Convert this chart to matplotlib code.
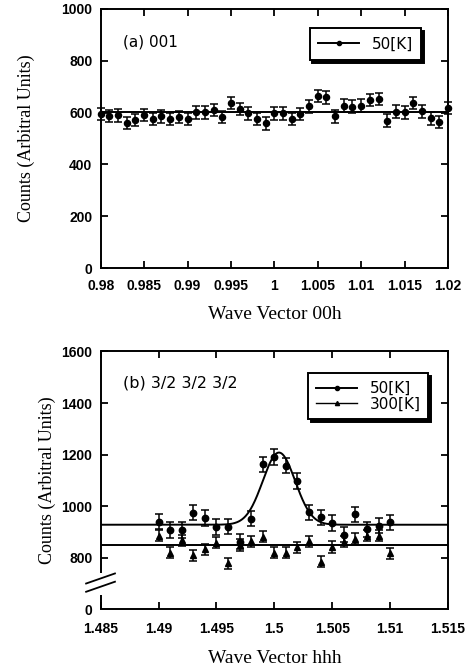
import numpy as np
import matplotlib
matplotlib.use('Agg')
import matplotlib.pyplot as plt
from matplotlib.lines import Line2D
import matplotlib.transforms as mtransforms

# ---------------- Panel (a): 001 ----------------
qa = [0.980, 0.981, 0.982, 0.983, 0.984, 0.985, 0.986, 0.987, 0.988, 0.989,
      0.990, 0.991, 0.992, 0.993, 0.994, 0.995, 0.996, 0.997, 0.998, 0.999,
      1.000, 1.001, 1.002, 1.003, 1.004, 1.005, 1.006, 1.007, 1.008, 1.009,
      1.010, 1.011, 1.012, 1.013, 1.014, 1.015, 1.016, 1.017, 1.018, 1.019,
      1.020]
counts_a = [595, 587, 589, 559, 572, 591, 576, 585, 576, 582,
            575, 601, 601, 610, 582, 636, 613, 597, 576, 558,
            597, 597, 576, 595, 624, 663, 659, 585, 627, 623,
            627, 648, 652, 569, 604, 601, 636, 605, 578, 563,
            617]
err_a = [24] * len(qa)
fit_a_level = 602

xticks_a = [0.98, 0.985, 0.99, 0.995, 1.0, 1.005, 1.01, 1.015, 1.02]
xticklabels_a = ["0.98", "0.985", "0.99", "0.995", "1", "1.005", "1.01", "1.015", "1.02"]
yticks_a = [0, 200, 400, 600, 800, 1000]
yticklabels_a = ["0", "200", "400", "600", "800", "1000"]

# ---------------- Panel (b): 3/2 3/2 3/2 ----------------
qb = [1.490, 1.491, 1.492, 1.493, 1.494, 1.495, 1.496, 1.497, 1.498, 1.499,
      1.500, 1.501, 1.502, 1.503, 1.504, 1.505, 1.506, 1.507, 1.508, 1.509,
      1.510]
counts_b50 = [940, 908, 908, 975, 955, 920, 921, 862, 952, 1162,
              1190, 1157, 1098, 976, 957, 934, 890, 968, 910, 925,
              937]
err_b50 = [30] * len(qb)
counts_b300 = [885, 820, 867, 809, 832, 858, 778, 850, 864, 882,
               820, 820, 840, 864, 785, 842, 862, 874, 886, 886,
               817]
err_b300 = [22] * len(qb)
# Gaussian fit to 50 K data, flat line for 300 K
fit_b50_base = 928
fit_b50_amp = 280
fit_b50_center = 1.5004
fit_b50_sigma = 0.0014
fit_b300_level = 848

xticks_b = [1.485, 1.49, 1.495, 1.5, 1.505, 1.51, 1.515]
xticklabels_b = ["1.485", "1.49", "1.495", "1.5", "1.505", "1.51", "1.515"]
# axis is broken: the bottom of the axis (600) is labelled 0
yticks_b = [600, 800, 1000, 1200, 1400, 1600]
yticklabels_b = ["0", "800", "1000", "1200", "1400", "1600"]

# ---------------- styling ----------------
serif = 'Liberation Serif'
sans = 'Liberation Sans'
label_font = 'DejaVu Sans'

fig = plt.figure(figsize=(4.73, 6.70), dpi=100)
ax1 = fig.add_axes([0.2129, 0.600, 0.7342, 0.3866])
ax2 = fig.add_axes([0.2129, 0.0906, 0.7342, 0.3848])


def style_axes(ax):
    ax.tick_params(direction='in', length=5, width=1.3, top=True, right=True,
                   labelsize=10)
    ax.tick_params(axis='x', pad=8)
    ax.tick_params(axis='y', pad=6)
    for s in ax.spines.values():
        s.set_linewidth(1.4)
    for lab in ax.get_xticklabels() + ax.get_yticklabels():
        lab.set_fontfamily(sans)
        lab.set_fontweight('bold')


# ---- panel (a)
ax1.errorbar(qa, counts_a, yerr=err_a, fmt='o', color='black', ms=4.4,
             elinewidth=1.1, capsize=2.8, capthick=1.1, clip_on=False, zorder=3)
ax1.axhline(fit_a_level, color='black', lw=1.4)
ax1.set_xlim(0.98, 1.02)
ax1.set_ylim(0, 1000)
ax1.set_xticks(xticks_a)
ax1.set_xticklabels(xticklabels_a)
ax1.set_yticks(yticks_a)
ax1.set_yticklabels(yticklabels_a)
style_axes(ax1)
ax1.set_xlabel('Wave Vector 00h', fontfamily=serif, fontsize=14, labelpad=9)
ax1.set_ylabel('Counts (Arbitral Units)', fontfamily=serif, fontsize=13, labelpad=19)
ax1.text(0.065, 0.855, '(a) 001', transform=ax1.transAxes, fontfamily=label_font,
         fontsize=11)
h1 = [Line2D([], [], color='black', lw=1.4, marker='o', ms=3)]
leg1 = ax1.legend(h1, ['50[K]'], loc='upper right', bbox_to_anchor=(0.945, 0.955),
                  frameon=True, fancybox=False, shadow={'color': 'black', 'alpha': 1},
                  prop={'family': label_font, 'size': 11}, handlelength=2.7,
                  borderpad=0.55, edgecolor='black')
leg1.get_frame().set_linewidth(1.4)

# ---- panel (b)
xx = np.linspace(1.485, 1.515, 600)
yy = fit_b50_base + fit_b50_amp * np.exp(-(xx - fit_b50_center) ** 2 / (2 * fit_b50_sigma ** 2))
ax2.plot(xx, yy, color='black', lw=1.4)
ax2.axhline(fit_b300_level, color='black', lw=1.4)
ax2.errorbar(qb, counts_b50, yerr=err_b50, fmt='o', color='black', ms=4.6,
             elinewidth=1.1, capsize=2.8, capthick=1.1, zorder=3)
ax2.errorbar(qb, counts_b300, yerr=err_b300, fmt='^', color='black', ms=4.6,
             elinewidth=1.1, capsize=2.8, capthick=1.1, zorder=3)
ax2.set_xlim(1.485, 1.515)
ax2.set_ylim(600, 1600)
ax2.set_xticks(xticks_b)
ax2.set_xticklabels(xticklabels_b)
ax2.set_yticks(yticks_b)
ax2.set_yticklabels(yticklabels_b)
style_axes(ax2)
ax2.tick_params(axis='x', pad=9)
ax2.yaxis.get_major_ticks()[0].tick1line.set_visible(False)
ax2.yaxis.get_major_ticks()[0].tick2line.set_visible(False)
ax2.set_xlabel('Wave Vector hhh', fontfamily=serif, fontsize=14, labelpad=10)
ax2.set_ylabel('Counts (Arbitral Units)', fontfamily=serif, fontsize=13, labelpad=4)
ax2.text(0.065, 0.86, '(b) 3/2 3/2 3/2', transform=ax2.transAxes,
         fontfamily=label_font, fontsize=11.5)
h2 = [Line2D([], [], color='black', lw=1.4, marker='o', ms=3),
      Line2D([], [], color='black', lw=1.0, marker='^', ms=3)]
leg2 = ax2.legend(h2, ['50[K]', '300[K]'], loc='upper right',
                  bbox_to_anchor=(0.965, 0.945), frameon=True, fancybox=False,
                  shadow={'color': 'black', 'alpha': 1},
                  prop={'family': label_font, 'size': 11}, handlelength=2.7,
                  borderpad=0.5, labelspacing=0.05, edgecolor='black')
leg2.get_frame().set_linewidth(1.4)

# broken left spine with break marks
ax2.spines['left'].set_visible(False)
blend = mtransforms.blended_transform_factory(ax2.transAxes, ax2.transData)
ax2.plot([0, 0], [600, 655], transform=blend, color='black', lw=1.4,
         clip_on=False, solid_capstyle='butt')
ax2.plot([0, 0], [740, 1600], transform=blend, color='black', lw=1.4,
         clip_on=False, solid_capstyle='butt')
ax2.plot([-0.042, 0.041], [700, 739], transform=blend, color='black', lw=1.3,
         clip_on=False)
ax2.plot([-0.042, 0.041], [668, 707], transform=blend, color='black', lw=1.3,
         clip_on=False)

fig.savefig('out.png', dpi=100)
